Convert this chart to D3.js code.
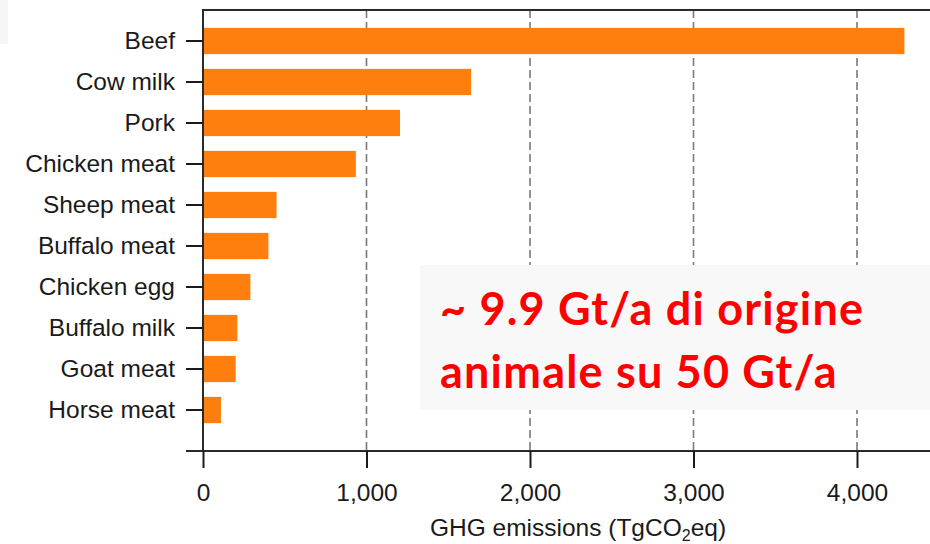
<!DOCTYPE html>
<html>
<head>
<meta charset="utf-8">
<script src="https://cdn.jsdelivr.net/npm/d3@7"></script>
<style>
  html, body { margin: 0; padding: 0; background: #fff; }
  svg { display: block; }
</style>
</head>
<body>
<svg id="chart" width="930" height="544"></svg>
<script>
// Greenhouse-gas emissions by livestock commodity (TgCO2eq)
const categories = ["Beef", "Cow milk", "Pork", "Chicken meat", "Sheep meat",
                    "Buffalo meat", "Chicken egg", "Buffalo milk", "Goat meat", "Horse meat"];
const emissions = [4290, 1640, 1205, 935, 450, 400, 290, 210, 200, 110];
const xTicks = [0, 1000, 2000, 3000, 4000];
const noteLines = ["~ 9.9 Gt/a di origine", "animale su 50 Gt/a"];

(function drawChart() {
  const W = 930;
  const plotTop = 10, plotBottom = 451, plotLeft = 203, tickLen = 17;

  const svg = d3.select("#chart");

  const x = d3.scaleLinear().domain([0, 4000]).range([plotLeft, 857]);
  const y = d3.scaleBand().domain(categories).range([20.5, 430.5])
    .paddingInner(0.36).paddingOuter(0.18);

  const labelFont = "'Liberation Sans', Arial, Helvetica, sans-serif";

  // faint panel at the top-left corner
  svg.append("rect").attr("x", 0).attr("y", 0).attr("width", 8).attr("height", 44)
    .attr("fill", "#f6f6f6");

  // dashed vertical gridlines
  svg.append("g").selectAll("line")
    .data(xTicks.filter(d => d > 0))
    .join("line")
    .attr("x1", d => x(d)).attr("x2", d => x(d))
    .attr("y1", plotTop).attr("y2", plotBottom)
    .attr("stroke", "#7a7a7a").attr("stroke-width", 1.6)
    .attr("stroke-dasharray", "8,4");

  // bars
  svg.append("g").selectAll("rect")
    .data(categories.map((c, i) => ({ c, v: emissions[i] })))
    .join("rect")
    .attr("x", x(0) + 1)
    .attr("y", d => y(d.c))
    .attr("width", d => x(d.v) - x(0) - 1)
    .attr("height", y.bandwidth())
    .attr("fill", "#ff7f0e");

  // frame: top border, left axis, bottom axis
  svg.append("line").attr("x1", plotLeft).attr("x2", W + 10).attr("y1", plotTop).attr("y2", plotTop)
    .attr("stroke", "#2a2a2a").attr("stroke-width", 2);
  svg.append("line").attr("x1", plotLeft).attr("x2", plotLeft).attr("y1", plotTop - 1).attr("y2", plotBottom)
    .attr("stroke", "#2a2a2a").attr("stroke-width", 2);
  svg.append("line").attr("x1", plotLeft - tickLen).attr("x2", W + 10).attr("y1", plotBottom).attr("y2", plotBottom)
    .attr("stroke", "#2a2a2a").attr("stroke-width", 2);

  // x axis
  const xAxis = d3.axisBottom(x).tickValues(xTicks).tickSize(tickLen).tickPadding(10)
    .tickFormat(d3.format(","));
  const gx = svg.append("g").attr("transform", `translate(0,${plotBottom})`).call(xAxis);
  gx.select(".domain").remove();
  gx.selectAll(".tick line").attr("stroke", "#1a1a1a").attr("stroke-width", 2);
  gx.selectAll(".tick text")
    .attr("font-family", labelFont).attr("font-size", 24.5).attr("fill", "#1a1a1a")
    .attr("dy", "0.95em");

  // y axis
  const yAxis = d3.axisLeft(y).tickSize(tickLen).tickPadding(11);
  const gy = svg.append("g").attr("transform", `translate(${plotLeft},0)`).call(yAxis);
  gy.select(".domain").remove();
  gy.selectAll(".tick line").attr("stroke", "#1a1a1a").attr("stroke-width", 2);
  gy.selectAll(".tick text")
    .attr("font-family", labelFont).attr("font-size", 24.5).attr("fill", "#1a1a1a");

  // x axis title with subscript
  const title = svg.append("text")
    .attr("x", 578).attr("y", 536)
    .attr("text-anchor", "middle")
    .attr("font-family", labelFont).attr("font-size", 24.5).attr("fill", "#1a1a1a");
  title.append("tspan").text("GHG emissions (TgCO");
  title.append("tspan").attr("font-size", 16).attr("dy", 5).text("2");
  title.append("tspan").attr("dy", -5).text("eq)");

  // annotation box
  svg.append("rect").attr("x", 420).attr("y", 265).attr("width", 530).attr("height", 145)
    .attr("fill", "#f8f8f8");
  svg.append("g").selectAll("text")
    .data(noteLines)
    .join("text")
    .attr("x", 440)
    .attr("y", (d, i) => 325 + i * 62.5)
    .attr("font-family", "Lato, 'Open Sans', sans-serif")
    .attr("font-weight", 700)
    .attr("font-size", 45)
    .attr("letter-spacing", 1.2)
    .attr("fill", "#ff0000")
    .text(d => d);
})();
</script>
</body>
</html>
